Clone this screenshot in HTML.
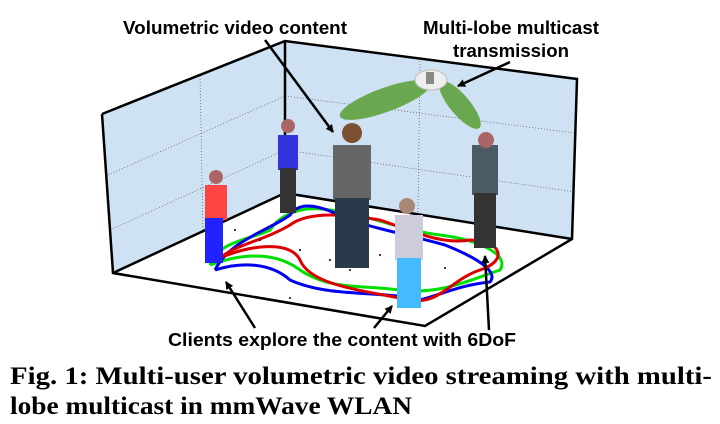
<!DOCTYPE html>
<html><head><style>
body{margin:0;background:#fff;width:720px;height:424px;overflow:hidden}
svg{display:block}
</style></head><body>
<svg width="720" height="424" viewBox="0 0 720 424" xmlns="http://www.w3.org/2000/svg">
<defs><marker id="ah" markerWidth="8" markerHeight="8" refX="7" refY="4" orient="auto" markerUnits="userSpaceOnUse"><path d="M0,0 L8,4 L0,8 z" fill="#000"/></marker></defs>
<polygon points="102,114 285,41 285,193 113,273" fill="#cfe2f3"/>
<polygon points="285,41 577,79 572,239 285,193" fill="#cfe2f3"/>
<polygon points="113,273 285,193 572,239 425,326" fill="#fff"/>
<g stroke="#666" stroke-dasharray="1,2" stroke-width="0.8" fill="none">
<line x1="200" y1="76" x2="203" y2="233"/><line x1="108" y1="175" x2="285" y2="96"/><line x1="110" y1="230" x2="285" y2="150"/>
<line x1="420" y1="58" x2="418" y2="215"/><line x1="285" y1="96" x2="575" y2="133"/><line x1="285" y1="150" x2="575" y2="192"/>
</g>
<g stroke="#000" stroke-width="2.5" fill="none">
<polyline points="102,114 285,41 577,79 572,239 425,326 113,273 102,114"/>
<polyline points="285,41 285,193 572,239"/>
<line x1="285" y1="193" x2="113" y2="273"/>
</g>
<ellipse cx="385" cy="100" rx="48" ry="12" transform="rotate(-20 385 100)" fill="#6aa84f"/>
<ellipse cx="460" cy="105" rx="30" ry="10" transform="rotate(50 460 105)" fill="#6aa84f"/>
<ellipse cx="431" cy="80" rx="16" ry="10" fill="#eee" stroke="#bbb"/>
<rect x="426" y="72" width="8" height="12" fill="#888"/>
<g fill="none" stroke-width="3">
<path d="M210,265 C250,250 280,255 300,270 C330,290 360,285 400,290 C440,295 470,280 500,270 C510,255 480,240 440,235 C400,230 370,215 330,210 C300,205 280,215 270,230 C250,240 220,240 210,265" stroke="#00e000"/>
<path d="M215,270 C240,262 270,262 290,280 C330,298 380,290 420,300 C440,295 460,285 490,282 C500,270 470,255 445,245 C410,235 380,230 350,220 C320,205 300,200 290,215 C270,230 230,240 215,270" stroke="#0000ee"/>
<path d="M220,258 C250,245 290,240 300,260 C310,285 360,290 410,300 C440,305 450,280 480,270 C510,260 500,240 470,240 C440,245 410,230 380,220 C350,215 310,210 290,225 C265,240 235,245 220,258" stroke="#dd0000"/>
</g>
<g fill="#000"><circle cx="235" cy="230" r="1"/><circle cx="260" cy="240" r="1"/><circle cx="300" cy="250" r="1"/><circle cx="330" cy="260" r="1"/><circle cx="350" cy="270" r="1"/><circle cx="380" cy="255" r="1"/><circle cx="420" cy="265" r="1"/><circle cx="445" cy="268" r="1"/><circle cx="290" cy="298" r="1"/></g>
<g>
<rect x="205" y="185" width="22" height="35" fill="#f44"/><rect x="205" y="218" width="18" height="45" fill="#22f"/><circle cx="216" cy="177" r="7" fill="#a66"/>
<rect x="278" y="135" width="20" height="35" fill="#33d"/><rect x="280" y="168" width="16" height="45" fill="#333"/><circle cx="288" cy="126" r="7" fill="#a66"/>
<rect x="333" y="145" width="38" height="55" fill="#666"/><rect x="335" y="198" width="34" height="70" fill="#2b3a4a"/><circle cx="352" cy="133" r="10" fill="#7a5030"/>
<rect x="395" y="215" width="28" height="45" fill="#ccd"/><rect x="397" y="258" width="24" height="50" fill="#4bf"/><circle cx="407" cy="206" r="8" fill="#a87"/>
<rect x="472" y="145" width="26" height="50" fill="#4b5b66"/><rect x="474" y="193" width="22" height="55" fill="#333"/><circle cx="486" cy="140" r="8" fill="#a66"/>
</g>
<g stroke="#000" stroke-width="2.5" marker-end="url(#ah)">
<line x1="265" y1="40" x2="333" y2="132"/>
<line x1="510" y1="62" x2="458" y2="86"/>
<line x1="255" y1="328" x2="226" y2="282"/>
<line x1="374" y1="328" x2="392" y2="306"/>
<line x1="489" y1="330" x2="485" y2="256"/>
</g>
<g font-family="Liberation Sans, sans-serif" font-weight="bold" font-size="18">
<text x="123" y="34" textLength="224" lengthAdjust="spacingAndGlyphs">Volumetric video content</text>
<text x="423" y="34" textLength="176" lengthAdjust="spacingAndGlyphs">Multi-lobe multicast</text>
<text x="453" y="57" textLength="116" lengthAdjust="spacingAndGlyphs">transmission</text>
<text x="168" y="346" textLength="348" lengthAdjust="spacingAndGlyphs">Clients explore the content with 6DoF</text>
</g>
<g font-family="Liberation Serif, serif" font-weight="bold" font-size="25">
<text x="10" y="384" textLength="702" lengthAdjust="spacingAndGlyphs">Fig. 1: Multi-user volumetric video streaming with multi-</text>
<text x="10" y="414" textLength="402" lengthAdjust="spacingAndGlyphs">lobe multicast in mmWave WLAN</text>
</g>
</svg>
</body></html>
